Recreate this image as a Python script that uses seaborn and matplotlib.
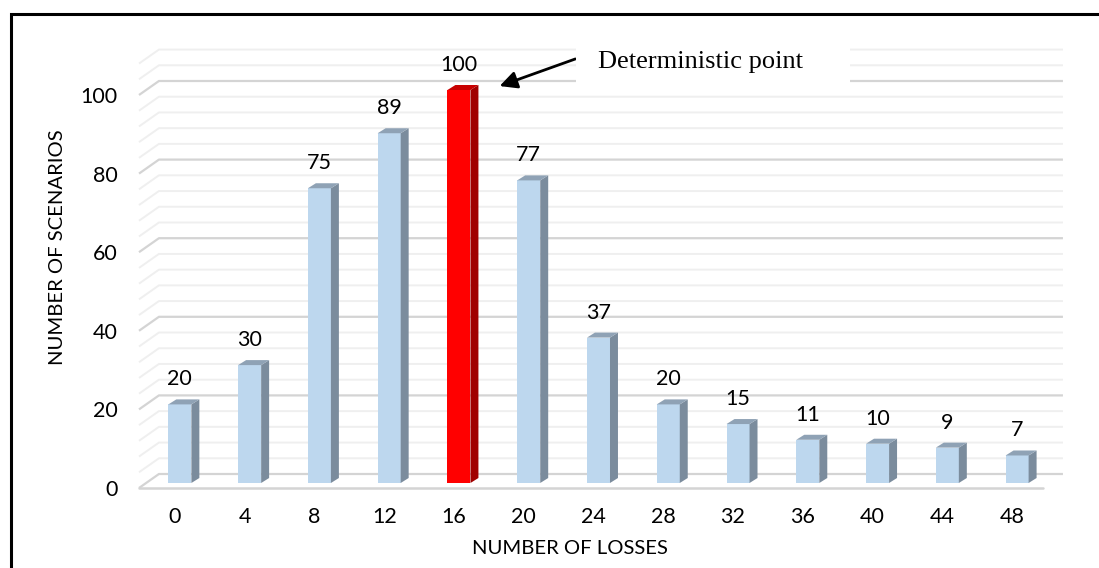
import numpy as np
import pandas as pd
import matplotlib
matplotlib.use("Agg")
import matplotlib.pyplot as plt
from matplotlib.patches import Polygon, Rectangle
import seaborn as sns

# data
losses = ["0", "4", "8", "12", "16", "20", "24", "28", "32", "36", "40", "44", "48"]
scenarios = [20, 30, 75, 89, 100, 77, 37, 20, 15, 11, 10, 9, 7]
highlight = "16"  # deterministic point

sns.set_theme(style="white")
plt.rcParams["font.family"] = ["Lato", "DejaVu Sans"]

df = pd.DataFrame({"losses": losses, "scenarios": scenarios})
df["kind"] = np.where(df["losses"] == highlight, "det", "other")

W, H = 1099, 568
fig = plt.figure(figsize=(W / 100, H / 100), dpi=100)

# axes placed so the front floor runs 140..1047 px, value 0 at y=488
px_x = 70.0          # pixels per category
px_y = 3.93          # pixels per scenario unit
x0_px, x1_px = 140, 1047
tick0_px = 176
y0_px = 488
ytop = 112
xlim = ((x0_px - tick0_px) / px_x, (x1_px - tick0_px) / px_x)
ax = fig.add_axes([x0_px / W, (H - y0_px) / H,
                   (x1_px - x0_px) / W, ytop * px_y / H])
ax.set_xlim(*xlim)
ax.set_ylim(0, ytop)

# back wall grid, shifted right/up for the 3D look
dx, dy = 20 / px_x, 14 / px_y
for v in range(0, 109, 4):
    major = v % 20 == 0
    c = "#d4d4d4" if major else "#efefef"
    lw = 1.6 if major else 1.4
    ax.plot([xlim[0], xlim[0] + dx, xlim[1] + dx], [v, v + dy, v + dy],
            color=c, lw=lw, zorder=1, clip_on=False, solid_capstyle="butt")
# front edge of the floor
ax.plot([xlim[0], xlim[1]], [0, 0], color="#d4d4d4", lw=1.8, zorder=1, clip_on=False)

sns.barplot(data=df, x="losses", y="scenarios", hue="kind",
            palette={"other": "#BDD7EE", "det": "#FF0000"},
            width=0.33, dodge=False, legend=False, saturation=1,
            order=losses, ax=ax, zorder=3)

shift_x = 5 / px_x
base = 5 / px_y
ddx, ddy = 8 / px_x, 5 / px_y
for p in list(ax.patches):
    h = p.get_height()
    if h <= 0:
        continue
    p.set_x(p.get_x() + shift_x)
    p.set_y(base)
    p.set_linewidth(0)
    p.set_clip_on(False)
    xl = p.get_x()
    xr = xl + p.get_width()
    top = base + h
    red = p.get_facecolor()[1] < 0.5
    side_c = "#A00000" if red else "#7B8C9D"
    top_c = "#C80000" if red else "#8FA2B5"
    ax.add_patch(Polygon([(xr, base), (xr + ddx, base + ddy), (xr + ddx, top + ddy), (xr, top)],
                         closed=True, facecolor=side_c, edgecolor="none", zorder=3, clip_on=False))
    ax.add_patch(Polygon([(xl, top), (xr, top), (xr + ddx, top + ddy), (xl + ddx, top + ddy)],
                         closed=True, facecolor=top_c, edgecolor="none", zorder=3, clip_on=False))

# value labels
for i, v in enumerate(scenarios):
    ax.annotate(str(v), (i + shift_x, base + v), xytext=(0, 18), textcoords="offset points",
                ha="center", va="center", fontsize=15.5, color="black")

ax.set_yticks(range(0, 101, 20))
ax.set_xticks(range(len(losses)))
ax.set_xticklabels(losses)
ax.tick_params(axis="both", length=0, labelsize=15.5, colors="black")
ax.tick_params(axis="y", pad=16)
ax.tick_params(axis="x", pad=14)
for s in ax.spines.values():
    s.set_visible(False)
ax.set_xlabel("")
ax.set_ylabel("")
ax.patch.set_alpha(0)

fig.text(570 / W, 1 - 548 / H, "NUMBER OF LOSSES", ha="center", va="center",
         fontsize=14.6, color="black")
fig.text(58 / W, 1 - 247 / H, "NUMBER OF SCENARIOS", ha="center", va="center",
         rotation=90, fontsize=14.6, color="black")

# white box, callout and arrow
fig.add_artist(Rectangle((576 / W, 1 - 88 / H), 274 / W, 48 / H, transform=fig.transFigure,
                         facecolor="white", edgecolor="none", zorder=5))
fig.text(700 / W, 1 - 62 / H, "Deterministic point", ha="center", va="center",
         fontsize=19, family=["Liberation Serif", "DejaVu Serif"], color="black", zorder=6)
ax.annotate("", xy=(497, H - 87), xycoords="figure pixels",
            xytext=(578, H - 58), textcoords="figure pixels",
            arrowprops=dict(arrowstyle="-|>", color="black", lw=2, mutation_scale=26),
            zorder=6)

# outer frame (cropped at right and bottom)
fig.add_artist(Rectangle((11 / W, -0.05), 1.2, 1 - 14 / H + 0.05, transform=fig.transFigure,
                         facecolor="none", edgecolor="black", lw=2.2, zorder=7))

fig.savefig("out.png", dpi=100)
